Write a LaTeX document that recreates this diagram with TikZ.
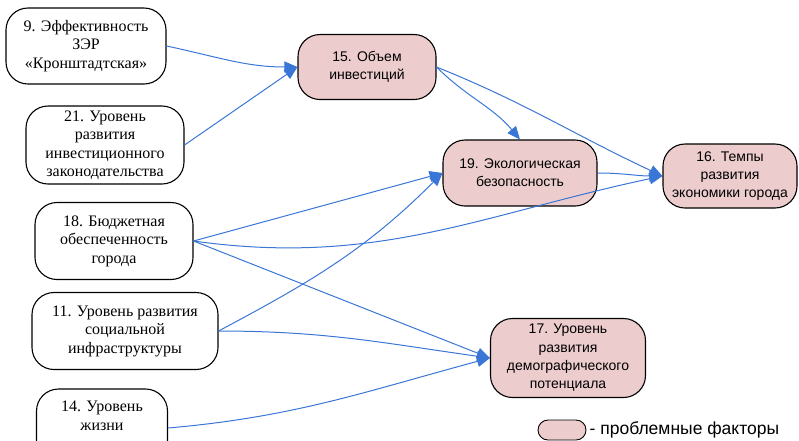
\documentclass[tikz,border=0pt]{standalone}
\usepackage{fontspec}
\setsansfont{Liberation Sans}
\newfontfamily\timesfont{Liberation Serif}
\usetikzlibrary{arrows.meta,positioning}
\definecolor{linkblue}{RGB}{58,118,214}
\definecolor{probfill}{RGB}{236,204,204}
\begin{document}
\begin{tikzpicture}
[x=1pt,y=-1pt,>={Triangle[length=13pt,width=11pt]},
factor/.style = {draw, line width=1.1pt, rounded corners=22pt, align=center, inner sep=0pt,
  font=\timesfont\fontsize{16}{18.5}\selectfont},
problem/.style = {factor, fill=probfill, font=\sffamily\fontsize{14}{18.3}\selectfont},
link/.style = {->, draw=linkblue, line width=1pt},]
\useasboundingbox (0,0) rectangle (799,440);
\node (f9) at (86,46)[factor, minimum width=160pt, minimum height=76pt] {9. Эффективность\\ЗЭР\\«Кронштадтская»};
\node (f21) at (105,145)[factor, minimum width=158pt, minimum height=78pt] {21. Уровень\\развития\\инвестиционного\\законодательства};
\node (f18) at (114,241)[factor, minimum width=158pt, minimum height=77pt] {18. Бюджетная\\обеспеченность\\города};
\node (f11) at (125,331)[factor, minimum width=186pt, minimum height=77pt] {11. Уровень развития\\социальной\\инфраструктуры};
\node (f14) at (102,428)[factor, minimum width=131pt, minimum height=78pt, anchor=center] {14. Уровень\\жизни\\[6pt]};
\node (f15) at (367,67)[problem, minimum width=138pt, minimum height=65pt] {15. Объем\\инвестиций};
\node (f19) at (520,173)[problem, minimum width=154pt, minimum height=66pt] {19. Экологическая\\безопасность};
\node (f16) at (730,176)[problem, minimum width=134pt, minimum height=64pt] {16. Темпы\\развития\\экономики города};
\node (f17) at (568,358)[problem, minimum width=155pt, minimum height=79pt] {17. Уровень\\развития\\демографического\\потенциала};
\node (key) at (562,430)[problem, rounded corners=10pt, line width=0.9pt, minimum width=48pt, minimum height=20pt] {};
\node (keytext) [right=3pt of key, inner sep=0pt, font=\sffamily\fontsize{17.5}{18}\selectfont] {- проблемные факторы};

\draw [link] (f9.east) to[out=-12, in=180] (f15.west);
\draw [link] (f21.east) -- (f15.west);
\draw [link] (f15.east) to[out=-45, in=130] (f19.north);
\draw [link] (f15.east) to[out=-22, in=155] (f16.west);
\draw [link] (f19.east) to[out=0, in=180] (f16.west);
\draw [link] (f18.east) -- (f19.west);
\draw [link] (f18.east) to[out=-8, in=192] (f16.west);
\draw [link] (f18.east) -- (f17.west);
\draw [link] (f11.east) to[out=28, in=225] (f19.west);
\draw [link] (f11.east) to[out=0, in=172] (f17.west);
\draw [link] (f14.east) to[out=5, in=195] (f17.west);

\end{tikzpicture}
\end{document}
